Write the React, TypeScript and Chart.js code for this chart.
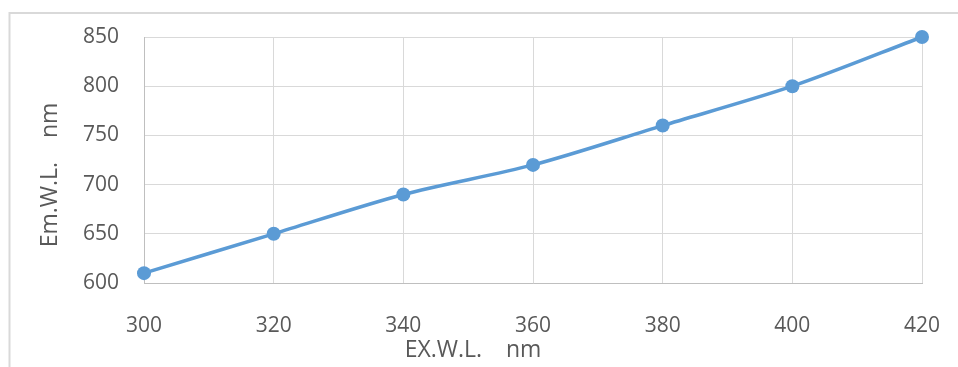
import React, { useEffect, useRef } from "react";
import { Chart, registerables } from "chart.js";

Chart.register(...registerables);

// Excitation wavelength (nm) vs emission wavelength (nm)
const exWavelengths = [300, 320, 340, 360, 380, 400, 420];
const emWavelengths = [610, 650, 690, 720, 760, 800, 850];

const xTitle = "EX.W.L.    nm";
const yTitle = "Em.W.L.    nm";

const FONT = "'Open Sans', 'Noto Sans', sans-serif";
const TEXT_COLOR = "#595959";

// Outer frame and free-positioned axis titles
const decorPlugin = {
  id: "decor",
  beforeDraw(chart: any) {
    const { ctx } = chart;
    ctx.save();
    ctx.strokeStyle = "#d9d9d9";
    ctx.lineWidth = 2;
    ctx.beginPath();
    ctx.moveTo(9.5, 400);
    ctx.lineTo(9.5, 13);
    ctx.lineTo(1000, 13);
    ctx.stroke();
    ctx.restore();
  },
  afterDraw(chart: any) {
    const { ctx, chartArea } = chart;
    ctx.save();
    ctx.fillStyle = TEXT_COLOR;
    ctx.font = `23px ${FONT}`;
    ctx.textAlign = "center";
    ctx.textBaseline = "middle";
    ctx.fillText(xTitle, chartArea.left + 329, chartArea.bottom + 67);
    ctx.translate(50, chartArea.top + 138);
    ctx.rotate(-Math.PI / 2);
    ctx.fillText(yTitle, 0, 0);
    ctx.restore();
  },
};

export default function App() {
  const canvasRef = useRef<HTMLCanvasElement | null>(null);

  useEffect(() => {
    const canvas = canvasRef.current;
    if (!canvas) return;
    const chart = new Chart(canvas, {
      type: "scatter",
      data: {
        datasets: [
          {
            data: exWavelengths.map((x, i) => ({ x, y: emWavelengths[i] })),
            showLine: true,
            clip: false,
            borderColor: "#5b9bd5",
            backgroundColor: "#5b9bd5",
            borderWidth: 3.5,
            pointRadius: 7,
            pointHoverRadius: 7,
            pointBorderWidth: 0,
            tension: 0.3,
          },
        ],
      },
      plugins: [decorPlugin],
      options: {
        responsive: false,
        animation: false,
        events: [],
        layout: {
          autoPadding: false,
          padding: { top: 37, right: 36, left: 0, bottom: 0 },
        },
        plugins: {
          legend: { display: false },
          tooltip: { enabled: false },
        },
        scales: {
          x: {
            type: "linear",
            min: 300,
            max: 420,
            afterFit(scale: any) {
              scale.height = 84;
              scale.paddingLeft = 0;
              scale.paddingRight = 0;
            },
            ticks: {
              stepSize: 20,
              padding: 30,
              color: TEXT_COLOR,
              font: { family: FONT, size: 21 },
              maxRotation: 0,
            },
            grid: { color: "#d9d9d9", drawTicks: false },
            border: { color: "#bfbfbf", width: 1 },
          },
          y: {
            type: "linear",
            min: 600,
            max: 850,
            afterFit(scale: any) {
              scale.width = 144;
              scale.paddingTop = 0;
              scale.paddingBottom = 0;
            },
            ticks: {
              stepSize: 50,
              padding: 25,
              color: TEXT_COLOR,
              font: { family: FONT, size: 21 },
            },
            grid: { color: "#d9d9d9", drawTicks: false },
            border: { color: "#bfbfbf", width: 1 },
          },
        },
      },
    });
    return () => chart.destroy();
  }, []);

  return (
    <div style={{ position: "absolute", left: 0, top: 0, width: 958, height: 367 }}>
      <canvas ref={canvasRef} width={958} height={367} style={{ display: "block" }} />
    </div>
  );
}
